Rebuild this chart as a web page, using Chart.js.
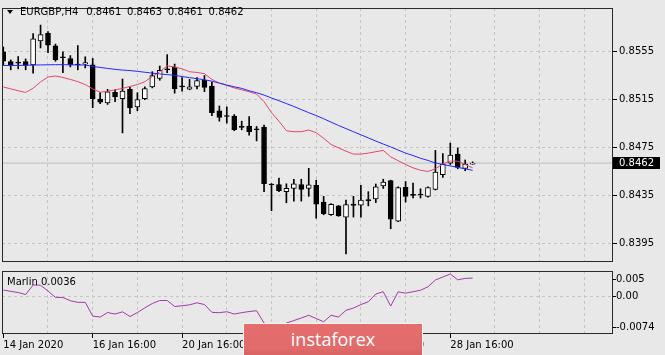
<!DOCTYPE html>
<html>
<head>
<meta charset="utf-8">
<script src="https://cdn.jsdelivr.net/npm/chart.js@4"></script>
<style>
html,body{margin:0;padding:0;background:#e8e8e8;width:665px;height:355px;overflow:hidden;}
body{position:relative;font-family:"DejaVu Sans",sans-serif;}
#main{position:absolute;left:0;top:0;}
#sub{position:absolute;left:0;top:262px;}
.lbl{position:absolute;font-size:10px;line-height:12px;color:#000;white-space:pre;}
#tri{position:absolute;left:7px;top:10px;width:0;height:0;border-left:3.5px solid transparent;border-right:3.5px solid transparent;border-top:4px solid #000;}
#wm{position:absolute;left:243px;top:323px;width:178px;height:33px;background:linear-gradient(#e46d6d 0%,#e16a6a 75%,#d45e5e 100%);border:1px solid #f4f4f4;border-bottom:none;}
#wm span{position:absolute;left:0;right:0;top:3px;text-align:center;font-family:"Open Sans",sans-serif;font-size:18px;line-height:24px;color:#fff;}
</style>
</head>
<body>
<canvas id="main" width="665" height="270"></canvas>
<canvas id="sub" width="665" height="93"></canvas>
<div id="tri"></div>
<div class="lbl" id="title" style="left:20px;top:6px;"></div>
<div class="lbl" id="subtitle" style="left:7px;top:276px;"></div>
<div id="wm"><span>instaforex</span></div>
<script>
// ---- data (EURGBP, H4) ----
const symbol = 'EURGBP,H4';
const opens = [
0.85550,0.85467,0.85459,0.85468,0.85439,0.85640,0.85705,0.85600,0.85502,0.85494,
0.85443,0.85447,0.85441,0.85155,0.85123,0.85212,0.85158,0.85236,0.85089,0.85157,
0.85256,0.85327,0.85407,0.85423,0.85260,0.85238,0.85261,0.85312,0.85264,0.85057,
0.85013,0.85013,0.84922,0.84930,0.84902,0.84918,0.84441,0.84441,0.84381,0.84408,
0.84441,0.84408,0.84435,0.84294,0.84188,0.84262,0.84169,0.84278,0.84268,0.84310,
0.84320,0.84429,0.84473,0.84135,0.84417,0.84353,0.84357,0.84342,0.84400,0.84524,
0.84620,0.84695,0.84575,0.84610];
const highs = [
0.85590,0.85482,0.85510,0.85490,0.85701,0.85773,0.85719,0.85614,0.85550,0.85518,
0.85602,0.85508,0.85494,0.85208,0.85236,0.85232,0.85322,0.85252,0.85208,0.85256,
0.85383,0.85431,0.85526,0.85447,0.85335,0.85319,0.85335,0.85351,0.85296,0.85097,
0.85089,0.85025,0.84970,0.85009,0.84926,0.84938,0.84449,0.84495,0.84447,0.84485,
0.84485,0.84576,0.84477,0.84342,0.84282,0.84266,0.84310,0.84342,0.84435,0.84381,
0.84445,0.84485,0.84477,0.84421,0.84466,0.84453,0.84405,0.84421,0.84726,0.84699,
0.84787,0.84747,0.84646,0.84630];
const lows = [
0.85439,0.85399,0.85407,0.85399,0.85371,0.85582,0.85542,0.85471,0.85375,0.85423,
0.85399,0.85415,0.85083,0.85117,0.85110,0.85133,0.84872,0.85033,0.85057,0.85149,
0.85248,0.85312,0.85375,0.85204,0.85220,0.85232,0.85240,0.85216,0.85017,0.84970,
0.84954,0.84890,0.84898,0.84853,0.84805,0.84381,0.84222,0.84381,0.84288,0.84302,
0.84302,0.84342,0.84159,0.84188,0.84183,0.84175,0.83861,0.84169,0.84169,0.84262,
0.84290,0.84408,0.84071,0.84131,0.84294,0.84328,0.84328,0.84336,0.84395,0.84501,
0.84608,0.84572,0.84556,0.84610];
const closes = [
0.85471,0.85443,0.85455,0.85435,0.85659,0.85693,0.85606,0.85481,0.85500,0.85441,
0.85439,0.85459,0.85157,0.85129,0.85216,0.85172,0.85222,0.85081,0.85150,0.85242,
0.85351,0.85395,0.85399,0.85242,0.85256,0.85256,0.85309,0.85252,0.85041,0.85001,
0.85009,0.84898,0.84918,0.84882,0.84898,0.84447,0.84437,0.84389,0.84408,0.84447,
0.84400,0.84439,0.84276,0.84198,0.84276,0.84179,0.84274,0.84266,0.84310,0.84306,
0.84421,0.84461,0.84151,0.84415,0.84342,0.84350,0.84353,0.84415,0.84544,0.84612,
0.84686,0.84584,0.84612,0.84620];
// red moving average
const maFast = [
0.85256,0.85240,0.85224,0.85210,0.85245,0.85298,0.85339,0.85347,0.85335,0.85319,
0.85300,0.85276,0.85240,0.85212,0.85220,0.85232,0.85244,0.85260,0.85276,0.85300,
0.85343,0.85383,0.85432,0.85423,0.85407,0.85383,0.85377,0.85367,0.85319,0.85288,
0.85268,0.85248,0.85232,0.85216,0.85196,0.85133,0.85041,0.84970,0.84890,0.84882,
0.84882,0.84896,0.84874,0.84827,0.84775,0.84747,0.84719,0.84695,0.84695,0.84703,
0.84715,0.84726,0.84672,0.84640,0.84608,0.84580,0.84560,0.84550,0.84572,0.84612,
0.84637,0.84636,0.84608,0.84580];
// blue moving average
const maSlow = [
0.85435,0.85435,0.85436,0.85437,0.85439,0.85440,0.85441,0.85442,0.85442,0.85441,
0.85440,0.85439,0.85427,0.85419,0.85411,0.85403,0.85397,0.85393,0.85386,0.85379,
0.85371,0.85365,0.85359,0.85353,0.85343,0.85334,0.85325,0.85316,0.85304,0.85288,
0.85272,0.85257,0.85244,0.85224,0.85208,0.85188,0.85164,0.85141,0.85117,0.85093,
0.85067,0.85041,0.85017,0.84990,0.84962,0.84934,0.84908,0.84882,0.84856,0.84830,
0.84804,0.84779,0.84755,0.84729,0.84703,0.84683,0.84660,0.84642,0.84621,0.84608,
0.84596,0.84584,0.84572,0.84559];
// Marlin oscillator
const marlinName = 'Marlin';
const marlin = [
0.00126,0.00100,0.00076,0.00037,0.00224,0.00220,0.00106,-0.00018,-0.00022,-0.00085,
-0.00117,-0.00117,-0.00387,-0.00406,-0.00318,-0.00347,-0.00304,-0.00396,-0.00318,-0.00225,
-0.00140,-0.00081,-0.00081,-0.00199,-0.00184,-0.00166,-0.00126,-0.00160,-0.00314,-0.00320,
-0.00302,-0.00347,-0.00320,-0.00298,-0.00282,-0.00524,-0.00623,-0.00603,-0.00524,-0.00475,
-0.00426,-0.00371,-0.00436,-0.00499,-0.00371,-0.00406,-0.00274,-0.00229,-0.00160,-0.00105,
0.00047,0.00092,-0.00190,0.00090,0.00063,0.00092,0.00122,0.00189,0.00323,0.00382,
0.00441,0.00327,0.00354,0.00360];
// ticks
const priceTicks = [0.8395,0.8435,0.8475,0.8515,0.8555];
const marlinTicks = [0.005,0,-0.0074];
const marlinTickLabels = ['0.005','0.00','-0.0074'];
const gridBars = [6,12,18,24,30,36,42,48,54,60,66,72,78];
const labelBars = [0,12,24,36,48,60];
const timeLabels = ['14 Jan 2020','16 Jan 16:00','20 Jan 16:00','22 Jan 16:00','24 Jan 16:00','28 Jan 16:00'];

// ---- layout constants ----
const X_MIN = -0.1745, X_MAX = 81.84;
const Y_MIN = 0.837934, Y_MAX = 0.859156;
const M_MIN = -0.0074, M_MAX = 0.005;
const FONT = 'DejaVu Sans';
const GRID = '#c6c6c6';

Chart.defaults.font.family = FONT;
Chart.defaults.font.size = 10;
Chart.defaults.color = '#000';

const last = opens.length - 1;
const lastClose = closes[last];
const barIdx = opens.map((_, i) => i);

document.getElementById('title').innerHTML =
  symbol + '<span style="margin-left:8px;word-spacing:2.6px">' +
  [opens[last], highs[last], lows[last], closes[last]].map(v => v.toFixed(4)).join(' ') + '</span>';
document.getElementById('subtitle').textContent = marlinName + ' ' + marlin[last].toFixed(4);

const frame = {
  id: 'frame',
  afterDraw(chart) {
    const {ctx, chartArea: a} = chart;
    ctx.save();
    ctx.strokeStyle = '#2a2a2a';
    ctx.lineWidth = 1;
    ctx.strokeRect(a.left + 0.5, a.top + 0.5, a.right - a.left - 1, a.bottom - a.top - 1);
    ctx.restore();
  }
};

const priceTag = {
  id: 'priceTag',
  afterDraw(chart) {
    const {ctx, chartArea: a} = chart;
    const p = Math.round(chart.scales.y.getPixelForValue(lastClose));
    ctx.save();
    ctx.fillStyle = '#000';
    ctx.fillRect(a.right, p - 6, 47, 12);
    ctx.fillStyle = '#fff';
    ctx.font = '10px "' + FONT + '"';
    ctx.textBaseline = 'middle';
    ctx.textAlign = 'left';
    ctx.fillText(lastClose.toFixed(4), a.right + 6, p + 0.5);
    ctx.restore();
  }
};

const subLabels = {
  id: 'subLabels',
  afterDraw(chart) {
    const {ctx, chartArea: a} = chart;
    const ys = chart.scales.y;
    ctx.save();
    ctx.font = '10px "' + FONT + '"';
    ctx.textBaseline = 'middle';
    ctx.textAlign = 'left';
    marlinTicks.forEach((v, k) => {
      let p = ys.getPixelForValue(v);
      p = Math.round(Math.max(a.top + 8, Math.min(a.bottom - 7, p)));
      ctx.fillStyle = '#000';
      ctx.fillRect(a.right, p, 3, 1);
      ctx.fillText(marlinTickLabels[k], a.right + 3, p + 0.5);
    });
    ctx.restore();
  }
};

new Chart(document.getElementById('main'), {
  type: 'bar',
  data: {
    datasets: [
      {type: 'line', data: [{x: X_MIN, y: lastClose}, {x: X_MAX, y: lastClose}],
       borderColor: '#bdbdbd', borderWidth: 1, pointRadius: 0, order: 10},
      {type: 'bar', data: barIdx.map(i => ({x: i, y: [lows[i], highs[i]]})),
       backgroundColor: '#000', barThickness: 1, grouped: false, order: 6},
      {type: 'bar', data: barIdx.map(i => ({x: i, y: [opens[i], closes[i]]})),
       backgroundColor: c => closes[c.dataIndex] >= opens[c.dataIndex] ? '#fff' : '#000',
       borderColor: '#000', borderWidth: 1, borderSkipped: false, barThickness: 5,
       minBarLength: 1, grouped: false, order: 5},
      {type: 'line', data: barIdx.map(i => ({x: i, y: maFast[i]})),
       borderColor: '#e3486a', borderWidth: 1, pointRadius: 0, order: 2},
      {type: 'line', data: barIdx.map(i => ({x: i, y: maSlow[i]})),
       borderColor: '#2626ff', borderWidth: 1, pointRadius: 0, order: 1}
    ]
  },
  options: {
    responsive: false, animation: false,
    layout: {padding: {left: 2, top: 2, right: 0, bottom: 1}},
    plugins: {legend: {display: false}, tooltip: {enabled: false}},
    scales: {
      x: {type: 'linear', min: X_MIN, max: X_MAX, offset: false,
          afterBuildTicks: s => { s.ticks = gridBars.map(v => ({value: v})); },
          ticks: {display: false},
          grid: {color: GRID, drawTicks: false, offset: false},
          border: {display: false, dash: [3, 3]},
          afterFit: s => { s.height = 0; }},
      y: {type: 'linear', position: 'right', min: Y_MIN, max: Y_MAX, beginAtZero: false,
          afterBuildTicks: s => { s.ticks = priceTicks.map(v => ({value: v})); },
          ticks: {color: '#000', padding: 2, callback: v => Number(v).toFixed(4)},
          grid: {color: GRID, tickColor: '#000', tickLength: 4},
          border: {display: false, dash: [3, 3]},
          afterFit: s => { s.width = 52; }}
    }
  },
  plugins: [frame, priceTag]
});

const subTicks = [0].concat(gridBars);
new Chart(document.getElementById('sub'), {
  type: 'line',
  data: {
    datasets: [
      {data: barIdx.map(i => ({x: i, y: marlin[i]})), borderColor: '#a43aa8',
       borderWidth: 1, pointRadius: 0}
    ]
  },
  options: {
    responsive: false, animation: false,
    layout: {padding: {left: 2, top: 9, right: 0, bottom: 0}},
    plugins: {legend: {display: false}, tooltip: {enabled: false}},
    scales: {
      x: {type: 'linear', min: X_MIN, max: X_MAX, offset: false,
          afterBuildTicks: s => { s.ticks = subTicks.map(v => ({value: v})); },
          ticks: {autoSkip: false, maxRotation: 0, minRotation: 0, align: 'start', padding: 1,
                  color: '#000',
                  callback: v => { const k = labelBars.indexOf(v); return k >= 0 ? timeLabels[k] : ''; }},
          grid: {color: c => gridBars.includes(c.tick.value) ? GRID : 'rgba(0,0,0,0)',
                 tickColor: c => labelBars.includes(c.tick.value) ? '#000' : 'rgba(0,0,0,0)',
                 tickLength: 4, offset: false},
          border: {display: false, dash: [3, 3]},
          afterFit: s => { s.height = 21; }},
      y: {type: 'linear', position: 'right', min: M_MIN, max: M_MAX, beginAtZero: false,
          afterBuildTicks: s => { s.ticks = marlinTicks.map(v => ({value: v})); },
          ticks: {display: false},
          grid: {color: c => c.tick.value === 0 ? GRID : 'rgba(0,0,0,0)', drawTicks: false},
          border: {display: false, dash: [3, 3]},
          afterFit: s => { s.width = 52; }}
    }
  },
  plugins: [frame, subLabels]
});
</script>
</body>
</html>
